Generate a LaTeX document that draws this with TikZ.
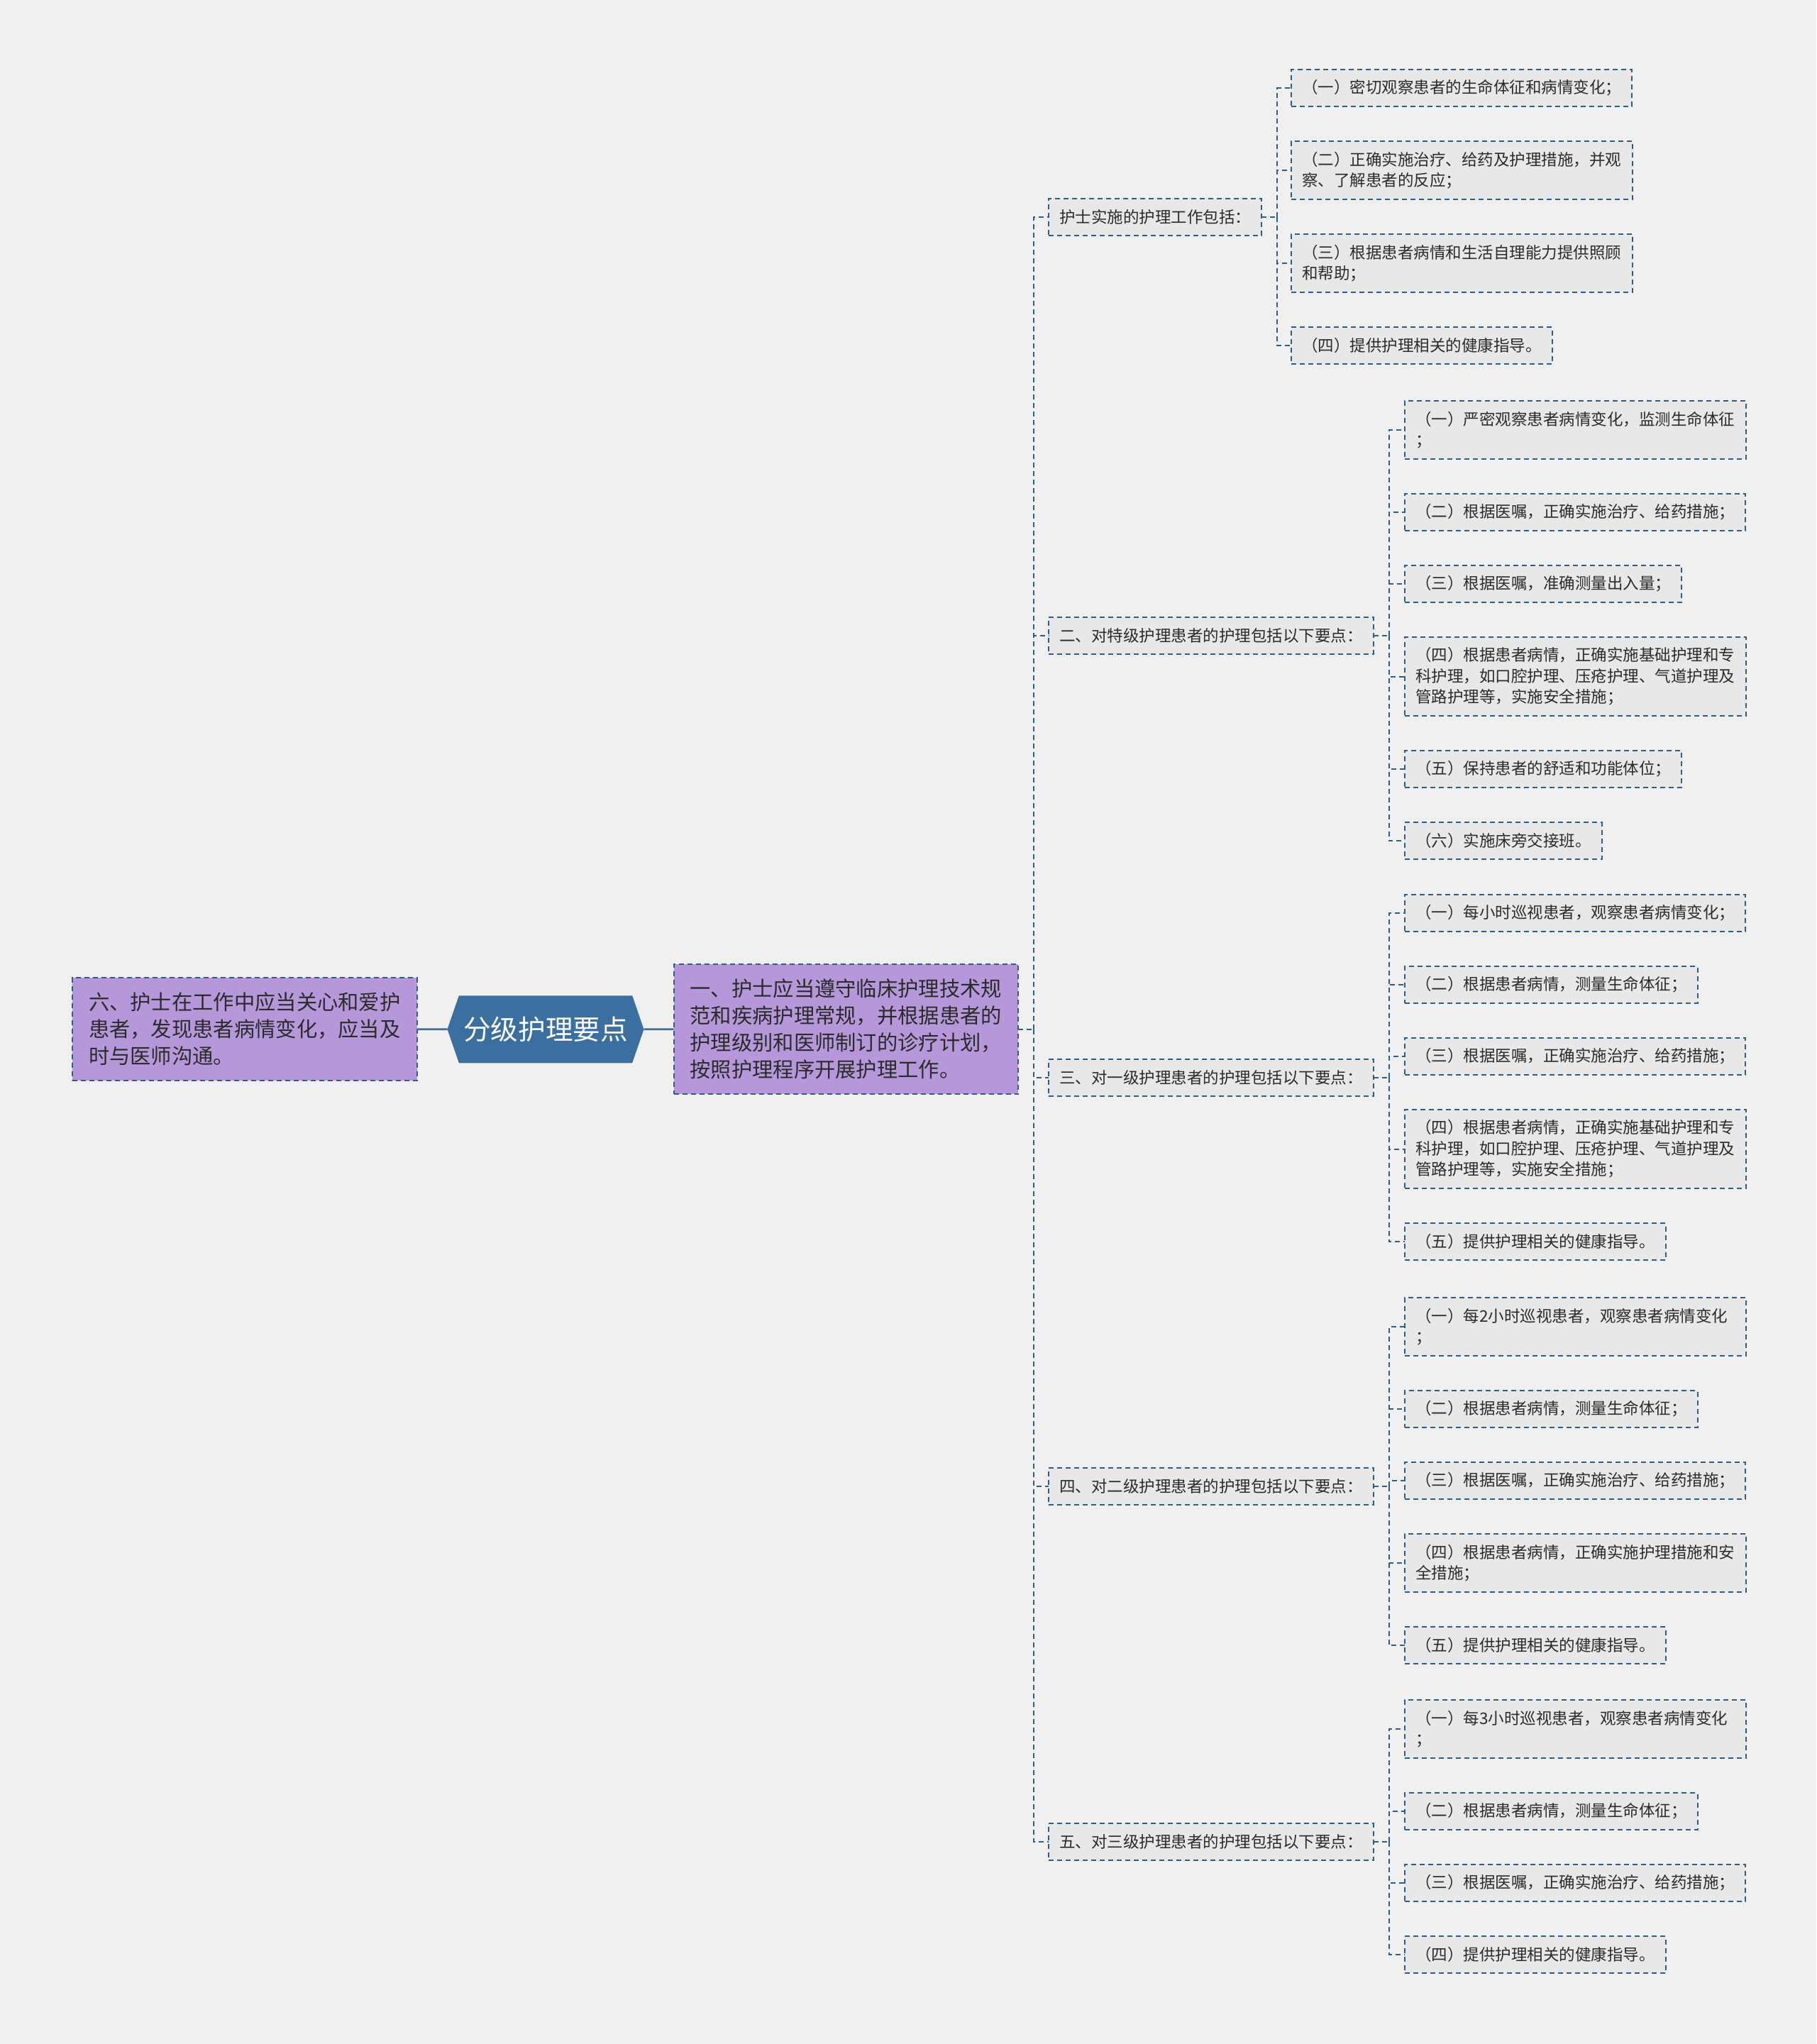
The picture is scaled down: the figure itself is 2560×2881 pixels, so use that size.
\documentclass[tikz,border=0pt]{standalone}
\usepackage{fontspec}
\setmainfont{Noto Sans CJK SC}
\usetikzlibrary{positioning,calc,shapes.symbols}

\definecolor{bgcol}{HTML}{F0F0F0}
\definecolor{boxfill}{HTML}{E8E8E8}
\definecolor{linecol}{HTML}{2E5E88}
\definecolor{purplefill}{HTML}{B597DA}
\definecolor{rootfill}{HTML}{3B6FA0}
\definecolor{inkcol}{HTML}{2B2B2B}

\begin{document}
\begin{tikzpicture}[
        x=0.5pt, y=-0.5pt,
        item/.style={rectangle, draw=linecol, line width=1pt, dash pattern=on 3.5pt off 2.5pt, fill=boxfill, text=inkcol, align=left, anchor=north west, outer sep=0pt, inner xsep=7.5pt, inner ysep=0pt, minimum height=26pt, font=\fontsize{11.25pt}{14.75pt}\selectfont},
        wrap/.style={text width=225.5pt, minimum height=41pt},
        wrapthree/.style={text width=225.5pt, minimum height=55.5pt},
        under/.style={below=24.5pt of #1, anchor=north west},
        topic/.style={item, anchor=west},
        mainbox/.style={rectangle, draw=linecol, line width=1pt, dash pattern=on 3.5pt off 2.5pt, fill=purplefill, text=inkcol, align=left, outer sep=0pt, inner xsep=11.5pt, inner ysep=10.5pt, font=\fontsize{14.65pt}{19pt}\selectfont},
        rootbox/.style={signal, signal to=east and west, signal pointer angle=142, fill=rootfill, text=white, outer sep=0pt, minimum width=138.5pt, minimum height=47.5pt, inner xsep=2pt, font=\fontsize{19.3pt}{23pt}\selectfont},
        link/.style={draw=linecol, line width=1pt, dash pattern=on 3.5pt off 2.5pt},
        trunk/.style={draw=rootfill, line width=1.4pt}
    ]
        \useasboundingbox (0,0) rectangle (2560,2881);
        \fill[bgcol] (0,0) rectangle (2560,2881);

        % 护士实施的护理工作
        \node[item] (tasks1) at (1820,98) {（一）密切观察患者的生命体征和病情变化；};
        \node[item, wrap, under=tasks1.south west] (tasks2) {（二）正确实施治疗、给药及护理措施，并观\\察、了解患者的反应；};
        \node[item, wrap, under=tasks2.south west] (tasks3) {（三）根据患者病情和生活自理能力提供照顾\\和帮助；};
        \node[item, under=tasks3.south west] (tasks4) {（四）提供护理相关的健康指导。};

        % 特级护理
        \node[item, wrap] (special1) at (1980,565) {（一）严密观察患者病情变化，监测生命体征\\；};
        \node[item, under=special1.south west] (special2) {（二）根据医嘱，正确实施治疗、给药措施；};
        \node[item, under=special2.south west] (special3) {（三）根据医嘱，准确测量出入量；};
        \node[item, wrapthree, under=special3.south west] (special4) {（四）根据患者病情，正确实施基础护理和专\\科护理，如口腔护理、压疮护理、气道护理及\\管路护理等，实施安全措施；};
        \node[item, under=special4.south west] (special5) {（五）保持患者的舒适和功能体位；};
        \node[item, under=special5.south west] (special6) {（六）实施床旁交接班。};

        % 一级护理
        \node[item] (first1) at (1980,1261) {（一）每小时巡视患者，观察患者病情变化；};
        \node[item, under=first1.south west] (first2) {（二）根据患者病情，测量生命体征；};
        \node[item, under=first2.south west] (first3) {（三）根据医嘱，正确实施治疗、给药措施；};
        \node[item, wrapthree, under=first3.south west] (first4) {（四）根据患者病情，正确实施基础护理和专\\科护理，如口腔护理、压疮护理、气道护理及\\管路护理等，实施安全措施；};
        \node[item, under=first4.south west] (first5) {（五）提供护理相关的健康指导。};

        % 二级护理
        \node[item, wrap] (second1) at (1980,1829) {（一）每2小时巡视患者，观察患者病情变化\\；};
        \node[item, under=second1.south west] (second2) {（二）根据患者病情，测量生命体征；};
        \node[item, under=second2.south west] (second3) {（三）根据医嘱，正确实施治疗、给药措施；};
        \node[item, wrap, under=second3.south west] (second4) {（四）根据患者病情，正确实施护理措施和安\\全措施；};
        \node[item, under=second4.south west] (second5) {（五）提供护理相关的健康指导。};

        % 三级护理
        \node[item, wrap] (third1) at (1980,2396) {（一）每3小时巡视患者，观察患者病情变化\\；};
        \node[item, under=third1.south west] (third2) {（二）根据患者病情，测量生命体征；};
        \node[item, under=third2.south west] (third3) {（三）根据医嘱，正确实施治疗、给药措施；};
        \node[item, under=third3.south west] (third4) {（四）提供护理相关的健康指导。};

        % topics, centred on their items
        \coordinate (col2) at (1478,0);
        \coordinate (m1) at ($(tasks1.west)!0.5!(tasks4.west)$);
        \coordinate (m2) at ($(special1.west)!0.5!(special6.west)$);
        \coordinate (m3) at ($(first1.west)!0.5!(first5.west)$);
        \coordinate (m4) at ($(second1.west)!0.5!(second5.west)$);
        \coordinate (m5) at ($(third1.west)!0.5!(third4.west)$);
        \node[topic] (tasks) at (m1 -| col2) {护士实施的护理工作包括：};
        \node[topic] (special) at (m2 -| col2) {二、对特级护理患者的护理包括以下要点：};
        \node[topic] (first) at (m3 -| col2) {三、对一级护理患者的护理包括以下要点：};
        \node[topic] (second) at (m4 -| col2) {四、对二级护理患者的护理包括以下要点：};
        \node[topic] (third) at (m5 -| col2) {五、对三级护理患者的护理包括以下要点：};

        % centre
        \coordinate (col1) at (1435,0);
        \coordinate (mid) at ($(tasks.west)!0.5!(third.west)$);
        \node[mainbox, anchor=east] (care) at (mid -| col1) {一、护士应当遵守临床护理技术规\\范和疾病护理常规，并根据患者的\\护理级别和医师制订的诊疗计划，\\按照护理程序开展护理工作。};
        \node[rootbox, left=21pt of care] (root) {分级护理要点};
        \node[mainbox, left=21.5pt of root] (comm) {六、护士在工作中应当关心和爱护\\患者，发现患者病情变化，应当及\\时与医师沟通。};

        \draw[trunk] (comm) -- (root);
        \draw[trunk] (root) -- (care);

        \draw[link] (care.east) -- ++(22,0) coordinate (s0);
        \draw[link] (s0) |- (tasks.west) (s0) |- (special.west) (s0) |- (first.west) (s0) |- (second.west) (s0) |- (third.west);

        \draw[link] (tasks.east) -- ++(22,0) coordinate (s1);
        \draw[link] (s1) |- (tasks1.west) (s1) |- (tasks2.west) (s1) |- (tasks3.west) (s1) |- (tasks4.west);

        \draw[link] (special.east) -- ++(22,0) coordinate (s2);
        \draw[link] (s2) |- (special1.west) (s2) |- (special2.west) (s2) |- (special3.west) (s2) |- (special4.west) (s2) |- (special5.west) (s2) |- (special6.west);

        \draw[link] (first.east) -- ++(22,0) coordinate (s3);
        \draw[link] (s3) |- (first1.west) (s3) |- (first2.west) (s3) |- (first3.west) (s3) |- (first4.west) (s3) |- (first5.west);

        \draw[link] (second.east) -- ++(22,0) coordinate (s4);
        \draw[link] (s4) |- (second1.west) (s4) |- (second2.west) (s4) |- (second3.west) (s4) |- (second4.west) (s4) |- (second5.west);

        \draw[link] (third.east) -- ++(22,0) coordinate (s5);
        \draw[link] (s5) |- (third1.west) (s5) |- (third2.west) (s5) |- (third3.west) (s5) |- (third4.west);
    \end{tikzpicture}
\end{document}
